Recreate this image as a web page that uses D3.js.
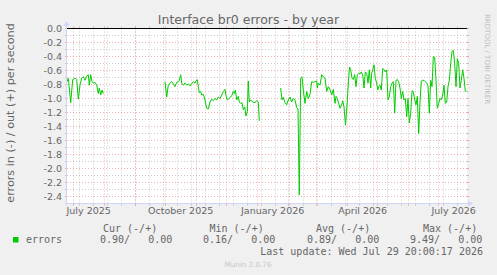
<!DOCTYPE html>
<html><head><meta charset="utf-8">
<script src="https://cdn.jsdelivr.net/npm/d3@7"></script>
<style>
html,body{margin:0;padding:0;background:#F0F0F0;}
svg{display:block;}
</style></head><body>
<svg id="c" width="497" height="275"></svg>
<script>
const title = "Interface br0 errors - by year";
const yAxisTitle = "errors in (-) / out (+) per second";
const windowStart = "2025-06-24T20:00:17Z";
const windowEnd = "2026-07-29T20:00:17Z";

// days since window start; null = gap in data
const dayOffsets = [
  0,1.3,3.7,5.7,8.3,9.7,11.3,13,14.7,16.3,18,19.7,21.3,22.3,23.7,25,26.3,28,29.7,31.3,32.3,33.7,35,36.3,
  60,
  98,99.7,101.3,103,104.7,106.3,108,109.7,111.3,112.3,113.7,114.7,116.3,118,119.7,121.3,123,124.7,126.3,128,129,130.3,131.3,132.3,133.7,134.7,136.3,138,139.7,141.3,143,144.7,146.3,148,149.7,151.3,153,154.7,156.3,158,159,160.3,162.3,164.7,166.3,167.3,168.3,169.7,171.3,172.3,173.7,175,176.3,177.7,179,180.3,181.3,182.3,183.7,185.7,188,189.7,191.3,192.3,
  200,
  213.7,215,216.3,218,219.7,221.3,223,224.7,226.3,228,229.7,231,232.3,233.7,235,236.3,238,239.7,241.3,243,244.7,246.3,248,249.7,250.3,251.3,253,254.7,256.3,258,259.7,261.3,263,264.7,266.3,268,269,270.3,271.3,273,274.7,275.7,277,278.5,280,281.5,282.5,
  283.7,285,286.3,287.7,289,290.3,291.7,293,294.3,295.7,297,298.3,299.7,301,302.3,303.7,304.7,305.7,307,308.3,309.7,310.7,311.7,313,314.3,315.7,317,318.3,319.7,321,322.3,323.7,325,326.3,327.7,329,330.3,331.7,333,334.3,335.7,337,338.3,339.7,341,342.3,343.7,345,346.3,347.7,349,350.3,351.7,353,354.3,355.7,357,358.3,359.7,361,362.3,363.7,365,366.3,367.7,369,370.3,371.7,373,374.3,375.7,377,378.3,379.7,381,382.3,383.7,385,386.3,387.7,389,390.3,391.7,393,394.3,395.7,397,398.3,399
];
const errorsIn = [
  -0.76,-0.71,-1.06,-0.73,-0.71,-0.73,-1.01,-0.81,-0.71,-0.69,-0.74,-0.68,-0.66,-0.81,-0.66,-0.76,-0.78,-0.77,-0.81,-0.93,-0.85,-0.95,-0.88,-0.93,
  null,
  -0.76,-0.98,-0.81,-0.78,-0.76,-0.79,-0.83,-0.77,-0.76,-0.74,-0.66,-0.78,-0.81,-0.78,-0.81,-0.79,-0.82,-0.79,-0.76,-0.78,-0.75,-0.73,-0.83,-0.92,-0.90,-0.95,-0.94,-1.02,-1.14,-1.15,-1.05,-1.01,-1.03,-1.00,-1.02,-0.98,-1.00,-0.95,-0.90,-0.87,-0.96,-1.02,-1.00,-0.96,-0.90,-0.93,-0.88,-1.02,-0.97,-1.05,-1.07,-1.06,-1.16,-1.12,-1.25,-1.19,-0.75,-1.05,-1.02,-1.05,-1.06,-1.03,-1.05,-1.32,
  null,
  -0.85,-1.02,-0.98,-1.06,-1.09,-1.02,-0.98,-1.05,-1.00,-1.02,-1.13,-1.15,-2.38,-0.71,-0.69,-0.88,-1.07,-0.90,-1.00,-0.94,-0.76,-0.77,-0.76,-0.75,-0.85,-0.78,-0.81,-0.66,-0.69,-0.71,-0.90,-0.83,-0.87,-0.95,-0.87,-1.07,-0.97,-1.00,-1.05,-1.14,-1.09,-1.03,-1.12,-1.38,-1.10,-0.74,-0.55,
  -0.59,-0.71,-0.73,-0.66,-0.83,-0.66,-0.64,-0.65,-0.62,-0.66,-0.85,-0.62,-0.64,-0.78,-0.59,-0.85,-0.64,-0.59,-0.52,-0.71,-0.78,-0.88,-0.83,-0.81,-0.88,-0.57,-0.59,-0.62,-0.59,-1.02,-0.97,-0.83,-0.78,-0.76,-1.21,-0.74,-0.73,-0.76,-0.85,-1.00,-0.90,-1.02,-1.00,-1.26,-1.00,-1.35,-1.21,-0.89,-0.90,-1.02,-1.09,-0.97,-1.50,-1.05,-0.75,-0.74,-0.74,-0.76,-0.78,-0.82,-1.21,-0.74,-0.83,-0.40,-0.41,-0.74,-1.14,-1.07,-1.00,-1.02,-0.95,-0.81,-1.07,-1.05,-0.83,-0.74,-0.50,-0.33,-0.31,-0.50,-0.83,-0.43,-0.50,-0.85,-0.74,-0.59,-0.71,-0.90,-0.89
];

const yTickValues = [0,-0.2,-0.4,-0.6,-0.8,-1.0,-1.2,-1.4,-1.6,-1.8,-2.0,-2.2,-2.4];
const yTickLabels = ["0.0","-0.2","-0.4","-0.6","-0.8","-1.0","-1.2","-1.4","-1.6","-1.8","-2.0","-2.2","-2.4"];
const yMinorValues = [-0.1,-0.3,-0.5,-0.7,-0.9,-1.1,-1.3,-1.5,-1.7,-1.9,-2.1,-2.3];
const xLabelMonths = ["2025-07-01","2025-10-01","2026-01-01","2026-04-01","2026-07-01"];
const xTickLabels = ["July 2025","October 2025","January 2026","April 2026","July 2026"];
const legendName = "errors";
const legendHeaders = ["Cur (-/+)","Min (-/+)","Avg (-/+)","Max (-/+)"];
const legendValues = ["0.90/   0.00","0.16/   0.00","0.89/   0.00","9.49/   0.00"];
const lastUpdate = "Last update: Wed Jul 29 20:00:17 2026";
const footer = "Munin 2.0.76";
const watermark = "RRDTOOL / TOBI OETIKER";

const svg = d3.select("#c");
const DAY = 86400000;
const t0 = new Date(windowStart), t1 = new Date(windowEnd);
const x = d3.scaleUtc().domain([t0, t1]).range([67, 467]);
const y = d3.scaleLinear().domain([-2.5, 0]).range([203.5, 28.5]);
const X0 = 67, X1 = 467, Y0 = 203.5, Y1 = 28.5;

const FONT = "'DejaVu Sans', sans-serif";
const MONO = "'DejaVu Sans Mono', monospace";
const TXT = "#666666";
const GRID = "rgba(143,143,143,0.45)";
const MGRID = "rgba(222,79,79,0.45)";

svg.append("rect").attr("width", 497).attr("height", 275).attr("fill", "#F0F0F0");
svg.append("rect").attr("x", X0).attr("y", 28).attr("width", X1 - X0).attr("height", 175.5).attr("fill", "#FFFFFF");

const grid = svg.append("g");
const px = v => Math.round(v) + 0.5;
function hLine(yy, col) {
  grid.append("line").attr("x1", X0 - 2).attr("x2", X0).attr("y1", yy).attr("y2", yy).attr("stroke", col);
  grid.append("line").attr("x1", X1).attr("x2", X1 + 2).attr("y1", yy).attr("y2", yy).attr("stroke", col);
  grid.append("line").attr("x1", X0).attr("x2", X1).attr("y1", yy).attr("y2", yy).attr("stroke", col).attr("stroke-dasharray", "1,2");
}
function vLine(xx, col) {
  grid.append("line").attr("x1", xx).attr("x2", xx).attr("y1", Y0).attr("y2", Y0 + 2).attr("stroke", col);
  grid.append("line").attr("x1", xx).attr("x2", xx).attr("y1", Y1 - 2).attr("y2", Y1).attr("stroke", col);
  grid.append("line").attr("x1", xx).attr("x2", xx).attr("y1", Y1).attr("y2", Y0).attr("stroke", col).attr("stroke-dasharray", "1,2");
}
yMinorValues.forEach(v => hLine(y(v), GRID));
// minor: every 2 weeks from the Monday before start
const firstMonday = d3.utcMonday.floor(t0);
for (let t = +firstMonday; t <= +t1; t += 14 * DAY) {
  if (t >= +t0) vLine(px(x(new Date(t))), GRID);
}
yTickValues.forEach(v => hLine(y(v), MGRID));
d3.utcMonth.range(d3.utcMonth.ceil(t0), t1).forEach(m => vLine(px(x(m)), MGRID));

// zero line
svg.append("line").attr("x1", X0).attr("x2", X1).attr("y1", y(0)).attr("y2", y(0)).attr("stroke", "#000").attr("stroke-width", 1);

// data
const pts = dayOffsets.map((d, i) => ({ t: new Date(+t0 + d * DAY), v: errorsIn[i] }));
const line = d3.line().defined(d => d.v !== null).x(d => x(d.t)).y(d => y(d.v));
svg.append("path").datum(pts).attr("d", line).attr("fill", "none").attr("stroke", "#00CC00").attr("stroke-width", 1);

// axes lines + arrows
const AX = "#CFD6F8";
svg.append("line").attr("x1", X0 - 2).attr("x2", X1 + 4).attr("y1", Y0).attr("y2", Y0).attr("stroke", AX);
svg.append("line").attr("x1", X0 - 0.5).attr("x2", X0 - 0.5).attr("y1", Y0 + 2).attr("y2", 24).attr("stroke", AX);
svg.append("path").attr("d", `M${X1 + 1},${Y0 - 3} L${X1 + 6},${Y0} L${X1 + 1},${Y0 + 3} Z`).attr("fill", AX);
svg.append("path").attr("d", `M${X0 - 3.5},26 L${X0 - 0.5},21 L${X0 + 2.5},26 Z`).attr("fill", AX);

// y axis labels
const yAxis = d3.axisLeft(y).tickValues(yTickValues).tickSize(0).tickPadding(0)
  .tickFormat((d, i) => yTickLabels[i]);
const gy = svg.append("g").attr("transform", "translate(62,0)").call(yAxis);
gy.select(".domain").remove();
gy.selectAll("text").attr("font-family", FONT).attr("font-size", "9.5px").attr("fill", TXT).attr("dy", "0.35em");

// x axis labels (centred half a month after the month start)
const xLabelDates = xLabelMonths.map(s => new Date(+new Date(s + "T00:00:00Z") + 15 * DAY));
const xAxis = d3.axisBottom(x).tickValues(xLabelDates).tickSize(0).tickPadding(0)
  .tickFormat((d, i) => xTickLabels[i]);
const gx = svg.append("g").attr("transform", "translate(0,207)").call(xAxis);
gx.select(".domain").remove();
gx.selectAll("text").attr("font-family", FONT).attr("font-size", "9.5px").attr("fill", TXT).attr("dy", "0.71em");

// title
svg.append("text").attr("x", 248.5).attr("y", 23.5).attr("text-anchor", "middle")
  .attr("font-family", FONT).attr("font-size", "12.5px").attr("fill", TXT).text(title);
// y title
svg.append("text").attr("transform", "translate(14,113) rotate(-90)").attr("text-anchor", "middle")
  .attr("font-family", FONT).attr("font-size", "11.2px").attr("fill", TXT).text(yAxisTitle);
// watermark
svg.append("text").attr("transform", "translate(485,14) rotate(90)").attr("text-anchor", "start")
  .attr("font-family", FONT).attr("font-size", "7px").attr("fill", "#BDBDBD").text(watermark);

// legend
const hdrX = [103, 209.5, 316, 423];
const valX = [100, 203, 307, 410];
svg.selectAll("text.hdr").data(legendHeaders).enter().append("text").attr("class", "hdr")
  .attr("x", (d, i) => hdrX[i]).attr("y", 231.5).attr("font-family", MONO).attr("font-size", "10px")
  .attr("fill", TXT).style("white-space", "pre").text(d => d);
svg.selectAll("text.val").data(legendValues).enter().append("text").attr("class", "val")
  .attr("x", (d, i) => valX[i]).attr("y", 243).attr("font-family", MONO).attr("font-size", "10px")
  .attr("fill", TXT).style("white-space", "pre").text(d => d);
svg.append("rect").attr("x", 13).attr("y", 237).attr("width", 5.5).attr("height", 5.5).attr("fill", "#00CC00");
svg.append("text").attr("x", 26).attr("y", 243).attr("font-family", MONO).attr("font-size", "10px")
  .attr("fill", TXT).text(legendName);
svg.append("text").attr("x", 483).attr("y", 255).attr("text-anchor", "end").attr("font-family", MONO)
  .attr("font-size", "10px").attr("fill", TXT).text(lastUpdate);
svg.append("text").attr("x", 248).attr("y", 267).attr("text-anchor", "middle").attr("font-family", FONT)
  .attr("font-size", "7.2px").attr("fill", "#C8C8C8").text(footer);
</script>
</body></html>
